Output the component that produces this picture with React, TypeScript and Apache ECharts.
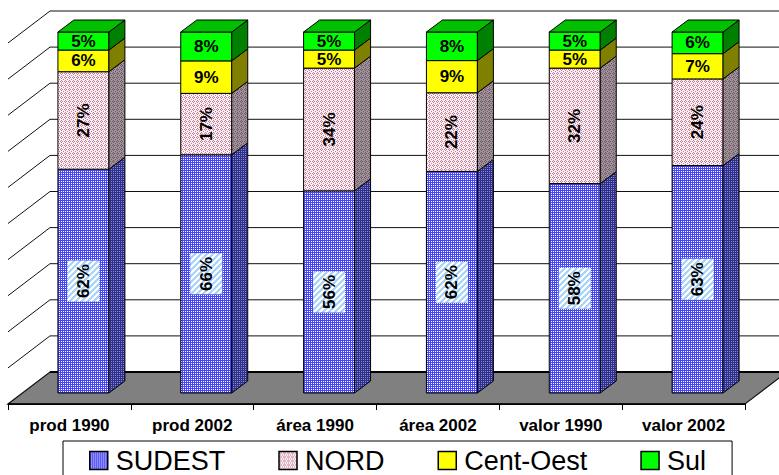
import { useEffect, useRef } from 'react';
import * as echarts from 'echarts';

// ---- data ----
const categories = ['prod 1990', 'prod 2002', 'área 1990', 'área 2002', 'valor 1990', 'valor 2002'];
const regions = ['SUDEST', 'NORD', 'Cent-Oest', 'Sul'];
const sudest = [62, 66, 56, 62, 58, 63];
const nord = [27, 17, 34, 22, 32, 24];
const centOest = [6, 9, 5, 9, 5, 7];
const sul = [5, 8, 5, 8, 5, 6];
const valueTicks = [0, 10, 20, 30, 40, 50, 60, 70, 80, 90, 100];

const FONT = '"Liberation Sans", Arial, Helvetica, sans-serif';

// oblique projection offsets (pixels)
const FACE_DX = 14;
const FACE_DY = -11;
const DEPTH_DX = 16;
const DEPTH_DY = -12;
const WALL_DX = 42;
const WALL_DY = -32;
const BAR_FRAC = 0.415;

type Tile = { rows: string[]; colors: Record<string, string> };

const sudestFront: Tile = { rows: ['bb', 'bw'], colors: { b: '#4646f5', w: '#ffffff' } };
const sudestSide: Tile = { rows: ['dd', 'dl'], colors: { d: '#2f2f8c', l: '#8a8ad0' } };
const nordFront: Tile = {
  rows: ['wmww', 'mwmw', 'wmww', 'wwwm'],
  colors: { w: '#fbf0f4', m: '#c07c95' },
};
const nordSide: Tile = {
  rows: ['gmgg', 'mgmg', 'gmgg', 'gggm'],
  colors: { g: '#a0929a', m: '#6e5864' },
};
const labelStripes: Tile = {
  rows: ['wwwbbb', 'wwbbbw', 'wbbbww', 'bbbwww', 'bbwwwb', 'bwwwbb'],
  colors: { w: '#ffffff', b: '#a9d4fb' },
};

function makePattern(t: Tile) {
  const h = t.rows.length;
  const w = t.rows[0].length;
  const c = document.createElement('canvas');
  c.width = w;
  c.height = h;
  const ctx = c.getContext('2d')!;
  for (let y = 0; y < h; y++) {
    for (let x = 0; x < w; x++) {
      ctx.fillStyle = t.colors[t.rows[y][x]];
      ctx.fillRect(x, y, 1, 1);
    }
  }
  return { image: c.toDataURL(), repeat: 'repeat', imageWidth: w, imageHeight: h } as any;
}

export default function App() {
  const ref = useRef<HTMLDivElement>(null);

  useEffect(() => {
    if (!ref.current) return;
    const chart = echarts.init(ref.current, null, { renderer: 'svg' });

    const pSudestFront = makePattern(sudestFront);
    const pSudestSide = makePattern(sudestSide);
    const pNordFront = makePattern(nordFront);
    const pNordSide = makePattern(nordSide);
    const pStripes = makePattern(labelStripes);

    const seriesValues = [sudest, nord, centOest, sul];
    const faceStyles = [
      { front: pSudestFront, side: pSudestSide, top: pSudestSide, rotate: true, box: true },
      { front: pNordFront, side: pNordSide, top: pNordSide, rotate: true, box: false },
      { front: '#ffff00', side: '#808000', top: '#c0c000', rotate: false, box: false },
      { front: '#00ff00', side: '#008000', top: '#00c000', rotate: false, box: false },
    ];

    // 100% stacking: each column is normalised to its own total
    const totals = categories.map((_, i) => seriesValues.reduce((s, arr) => s + arr[i], 0));
    const stacked = seriesValues.map((arr, si) =>
      arr.map((v, i) => {
        let below = 0;
        for (let k = 0; k < si; k++) below += seriesValues[k][i];
        const lo = (below / totals[i]) * 100;
        const hi = ((below + v) / totals[i]) * 100;
        return [i, lo, hi, v];
      })
    );

    const stroke = '#000';

    const barSeries = regions.map((name, si) => {
      const st = faceStyles[si];
      const isTop = si === regions.length - 1;
      return {
        type: 'custom',
        name,
        clip: false,
        silent: true,
        z: 3,
        itemStyle: { color: st.front, borderColor: '#000', borderWidth: 1 },
        encode: { x: 0, y: [1, 2] },
        data: stacked[si],
        renderItem: (params: any, api: any) => {
          const cat = api.value(0);
          const lo = api.value(1);
          const hi = api.value(2);
          const raw = api.value(3);
          const pLo = api.coord([cat, lo]);
          const pHi = api.coord([cat, hi]);
          const band = api.size([1, 0])[0];
          const w = band * BAR_FRAC;
          const x0 = pLo[0] + FACE_DX - w / 2;
          const x1 = x0 + w;
          const yB = pLo[1] + FACE_DY;
          const yT = pHi[1] + FACE_DY;
          const children: any[] = [
            {
              type: 'rect',
              shape: { x: x0, y: yT, width: w, height: yB - yT },
              style: { fill: st.front, stroke, lineWidth: 1 },
            },
            {
              type: 'polygon',
              shape: {
                points: [
                  [x1, yT],
                  [x1 + DEPTH_DX, yT + DEPTH_DY],
                  [x1 + DEPTH_DX, yB + DEPTH_DY],
                  [x1, yB],
                ],
              },
              style: { fill: st.side, stroke, lineWidth: 1 },
            },
          ];
          if (isTop) {
            children.push({
              type: 'polygon',
              shape: {
                points: [
                  [x0, yT],
                  [x0 + DEPTH_DX, yT + DEPTH_DY],
                  [x1 + DEPTH_DX, yT + DEPTH_DY],
                  [x1, yT],
                ],
              },
              style: { fill: st.top, stroke, lineWidth: 1 },
            });
          }
          const cx = (x0 + x1) / 2;
          const cy = (yT + yB) / 2;
          if (st.box) {
            children.push({
              type: 'rect',
              shape: { x: cx - 16, y: cy - 20.5, width: 32, height: 41 },
              style: { fill: pStripes },
            });
          }
          children.push({
            type: 'text',
            x: cx,
            y: cy,
            rotation: st.rotate ? Math.PI / 2 : 0,
            style: {
              text: raw + '%',
              fill: '#000',
              fontSize: 17,
              fontWeight: 'bold',
              fontFamily: FONT,
              align: 'center',
              verticalAlign: 'middle',
            },
          });
          return { type: 'group', children };
        },
      };
    });

    // walls and floor, drawn from the value axis ticks
    const wallSeries = {
      type: 'custom',
      name: 'walls',
      clip: false,
      silent: true,
      z: 1,
      encode: { x: 0, y: 1 },
      data: valueTicks.map((v) => [0, v]),
      renderItem: (params: any, api: any) => {
        const v = api.value(1);
        const cs = params.coordSys;
        const L = cs.x;
        const R = cs.x + cs.width;
        const y = api.coord([0, v])[1];
        if (v === 0) {
          return {
            type: 'group',
            children: [
              {
                type: 'polygon',
                shape: {
                  points: [
                    [L, y],
                    [R, y],
                    [R + WALL_DX, y + WALL_DY],
                    [L + WALL_DX, y + WALL_DY],
                  ],
                },
                style: { fill: '#808080', stroke: '#111', lineWidth: 1.2 },
              },
              {
                type: 'line',
                shape: { x1: L + WALL_DX, y1: y + WALL_DY, x2: R + WALL_DX, y2: y + WALL_DY },
                style: { stroke: '#000', lineWidth: 2 },
              },
              {
                type: 'line',
                shape: { x1: L, y1: y, x2: R, y2: y },
                style: { stroke: '#000', lineWidth: 1.5 },
              },
            ],
          };
        }
        return {
          type: 'group',
          children: [
            {
              type: 'line',
              shape: { x1: L, y1: y, x2: L + WALL_DX, y2: y + WALL_DY },
              style: { stroke: '#111', lineWidth: 1 },
            },
            {
              type: 'line',
              shape: { x1: L + WALL_DX, y1: y + WALL_DY, x2: R + WALL_DX, y2: y + WALL_DY },
              style: { stroke: '#111', lineWidth: 1 },
            },
          ],
        };
      },
    };

    const legendIcons = [pSudestFront, pNordFront, '#ffff00', '#00ff00'];

    chart.setOption({
      animation: false,
      backgroundColor: '#ffffff',
      grid: { left: 8, right: 34, top: 43, bottom: 71, outerBoundsMode: 'none' },
      xAxis: {
        type: 'category',
        data: categories,
        boundaryGap: true,
        axisLine: { show: true, lineStyle: { color: '#000', width: 1 } },
        axisTick: { show: true, length: 6, lineStyle: { color: '#000' } },
        axisLabel: {
          interval: 0,
          margin: 13,
          color: '#000',
          fontSize: 17,
          fontWeight: 'bold',
          fontFamily: FONT,
        },
        splitLine: { show: false },
      },
      yAxis: {
        type: 'value',
        min: 0,
        max: 100,
        interval: 10,
        show: false,
      },
      legend: {
        left: 63,
        top: 441,
        padding: [6, 26, 8, 26],
        itemWidth: 18,
        itemHeight: 18,
        itemGap: 53,
        borderColor: '#000',
        borderWidth: 1,
        backgroundColor: '#fff',
        icon: 'rect',
        textStyle: { fontSize: 27, color: '#000', fontFamily: FONT, padding: [0, 0, 0, 3] },
        data: regions.map((name, i) => ({
          name,
          icon: 'rect',
          itemStyle: { color: legendIcons[i], borderColor: '#000', borderWidth: 1.5 },
        })),
      },
      series: [wallSeries, ...barSeries],
    });

    return () => chart.dispose();
  }, []);

  return (
    <div
      ref={ref}
      style={{ position: 'absolute', left: 0, top: 0, width: 779, height: 475, background: '#fff' }}
    />
  );
}
